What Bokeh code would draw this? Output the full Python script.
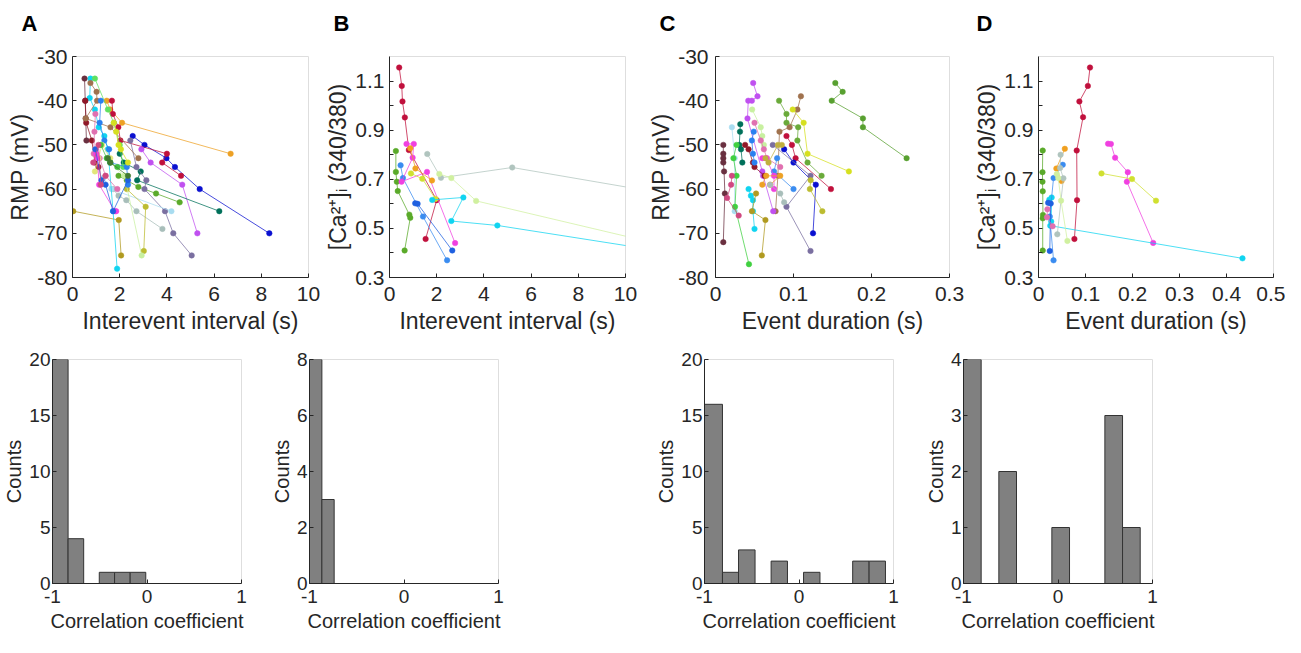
from bokeh.plotting import figure
from bokeh.layouts import row, column
from bokeh.models import FixedTicker, Range1d, Title
from bokeh.embed import file_html
from bokeh.resources import INLINE

# ---------------- data ----------------
# Panel A: RMP (mV) vs interevent interval (s), one list per cell
A_x = [
    [1.45, 1.6, 2.1, 6.7],
    [2.55, 3.05, 3.98, 4.34, 5.39, 8.34],
    [1.67, 1.71, 1.94, 2.03, 4.0, 3.8, 4.6],
    [2.92, 3.31, 4.65, 5.29],
    [2.0, 2.17, 2.89, 2.74, 6.22],
    [1.95, 2.3, 2.79, 3.54, 4.54],
    [2.45, 2.71, 3.13, 3.05, 3.92, 4.27, 5.05],
    [1.72, 1.95, 2.28, 2.71, 3.81],
    [1.3, 1.65, 4.19],
    [0.03, 1.96, 2.06],
    [2.3, 3.1, 3.02],
    [1.6, 2.2, 2.93],
    [0.76, 0.73, 0.95, 1.11, 1.35, 1.5, 1.72, 1.89],
    [0.95, 1.5, 1.75, 2.0, 2.15],
    [0.51, 0.54, 0.56, 0.59],
    [0.54, 0.58, 0.82, 0.95, 1.1],
    [0.76, 1.02, 1.04, 0.56, 1.61, 2.79],
    [0.97, 0.93, 0.9, 1.15, 1.4, 1.9],
    [1.2, 1.15, 1.35, 1.55, 1.6, 2.3, 2.35],
    [1.75, 1.85, 1.95, 2.05, 2.35],
    [0.95, 1.1, 1.25, 1.6],
    [1.0, 1.05, 1.13, 1.8, 1.85],
    [1.2, 1.45, 1.6, 1.9],
    [0.97, 1.23, 1.4, 1.72, 2.35],
    [0.88, 1.1, 1.2, 1.4],
    [1.5, 1.6, 2.35],
]
A_y = [
    [-40, -42, -45, -52],
    [-48, -50, -53, -55, -60, -70],
    [-40, -43, -46, -49, -52, -54, -57],
    [-51, -54, -59, -70],
    [-52, -54, -56, -58, -65],
    [-57, -58, -59.5, -61, -63],
    [-49, -55, -58, -60, -65, -70, -75],
    [-60, -61.5, -62.5, -65, -69],
    [-57.5, -60, -65],
    [-65, -67, -75],
    [-60, -64, -74],
    [-54, -57, -75],
    [-35, -39.4, -42, -46, -48, -51, -65, -78],
    [-35, -42, -45, -50, -55],
    [-35, -40, -44, -49],
    [-40, -45, -49, -54, -55],
    [-36, -38, -40, -44, -46, -53],
    [-43, -47, -52, -53, -57, -60],
    [-40, -45, -49, -51, -54, -55, -59],
    [-45, -47, -50, -51, -54],
    [-56, -53, -50, -53],
    [-52, -53, -59, -65, -65],
    [-50, -53, -54, -55],
    [-51, -58, -59, -65, -58],
    [-54, -50, -59, -57],
    [-53, -54, -57],
]
A_colors = ["#EDA125", "#0A10D0", "#C0103C", "#C050F0", "#00705A", "#5AAA2A",
            "#7A6FA0", "#A8BEBA", "#A8DCF0", "#B09A20", "#BCBC30", "#C8F0A0",
            "#10D4F0", "#60E060", "#6A3040", "#901828", "#A0724E", "#E070B0",
            "#2A80F0", "#D6E020", "#E2E67A", "#F040E0", "#40C040", "#2060E0",
            "#D04880", "#407A30"]

# Panel B: [Ca2+]i vs interevent interval (s)
B_x = [
    [0.41, 0.52, 0.55, 0.65, 0.82, 2.0, 1.53],
    [0.27, 0.27, 0.31, 0.35, 0.84, 0.88, 0.64],
    [0.47, 0.57, 1.42, 2.44],
    [1.09, 1.19, 2.66],
    [0.72, 1.03, 0.98, 0.51, 1.59, 2.78],
    [0.88, 1.1, 1.8],
    [0.91, 1.39, 1.95],
    [1.6, 2.18, 5.2, 12.0],
    [2.11, 2.62, 3.67, 13.0],
    [1.81, 3.13, 2.62, 4.57, 14.0],
]
B_y = [
    [1.155, 1.08, 1.017, 0.952, 0.819, 0.615, 0.457],
    [0.815, 0.73, 0.69, 0.652, 0.556, 0.543, 0.41],
    [0.757, 0.705, 0.548, 0.37],
    [0.602, 0.6, 0.41],
    [0.844, 0.844, 0.788, 0.69, 0.73, 0.44],
    [0.826, 0.744, 0.695],
    [0.724, 0.702, 0.62],
    [0.803, 0.706, 0.748, 0.636],
    [0.722, 0.705, 0.612, 0.40],
    [0.616, 0.626, 0.53, 0.512, 0.37],
]
B_colors = ["#C0103C", "#5AAA2A", "#3A8CF0", "#1F60E0", "#F040E0", "#F0A020",
            "#D0E030", "#B0C4BE", "#D0F0A0", "#10D4F0"]

# Panel C: RMP (mV) vs event duration (s)
C_x = [
    [0.1536, 0.163, 0.149, 0.189, 0.189, 0.245],
    [0.0815, 0.091, 0.091, 0.106, 0.105, 0.118, 0.136],
    [0.1095, 0.105, 0.095, 0.082, 0.08, 0.077],
    [0.099, 0.113, 0.118, 0.171],
    [0.0483, 0.0538, 0.0466, 0.042, 0.041, 0.06, 0.061, 0.074],
    [0.091, 0.098, 0.1027, 0.148],
    [0.088, 0.1, 0.1286, 0.125],
    [0.0734, 0.1218, 0.091, 0.1218],
    [0.122, 0.121, 0.137],
    [0.01, 0.01, 0.01, 0.01, 0.011, 0.012, 0.01],
    [0.0318, 0.0314, 0.0305, 0.0327, 0.0344],
    [0.021, 0.0246, 0.0246],
    [0.027, 0.023, 0.027, 0.025, 0.0429],
    [0.021, 0.02, 0.0148, 0.0297],
    [0.038, 0.0424, 0.048, 0.05, 0.063],
    [0.049, 0.0466, 0.048, 0.05],
    [0.079, 0.075, 0.1],
    [0.0424, 0.0454, 0.048, 0.048, 0.05],
    [0.052, 0.0467, 0.064, 0.0594],
    [0.047, 0.058, 0.06, 0.062],
    [0.05, 0.058, 0.062, 0.066, 0.083],
    [0.06, 0.065, 0.075, 0.075],
    [0.06, 0.065, 0.083, 0.07],
    [0.07, 0.083, 0.088],
    [0.064, 0.068, 0.08, 0.085],
]
C_y = [
    [-36, -38, -40, -44, -46, -53],
    [-40, -43, -45, -46, -49, -54, -57],
    [-39, -42, -46, -47, -57, -65],
    [-42, -45, -52, -56],
    [-36, -39, -40, -40, -44, -56, -57, -65],
    [-48, -50, -53, -60],
    [-51, -54, -59, -70],
    [-50, -57, -64, -74],
    [-58, -60, -65],
    [-50, -52, -53, -54, -56, -61, -72],
    [-45.3, -47, -50, -51, -54],
    [-46, -53, -65],
    [-50, -53, -57, -64, -77],
    [-57, -59, -62, -66],
    [-50, -51, -54, -55, -57],
    [-47, -49, -52, -54],
    [-53, -56, -60],
    [-60, -61.5, -62.5, -65, -69],
    [-61, -65, -67, -75],
    [-42, -46, -48, -50],
    [-45, -49, -51, -53, -55],
    [-53, -53, -57, -60],
    [-59, -57, -57, -59],
    [-59, -61, -63],
    [-53, -54, -50, -50],
]
C_colors = ["#58A030", "#6AAA3A", "#A0724E", "#D6E020", "#C050F0", "#C0103C",
            "#0A10D0", "#7A6FA0", "#BCBC30", "#6A3040", "#00705A", "#A8DCF0",
            "#40D040", "#D04880", "#901828", "#2A80F0", "#3A8CF0", "#10D4F0",
            "#B09A20", "#C8F0A0", "#E070B0", "#F040E0", "#EDA125", "#A8BEBA",
            "#C0B040"]

# Panel D: [Ca2+]i vs event duration (s)
D_x = [
    [0.1096, 0.105, 0.087, 0.0948, 0.0813, 0.082, 0.0764],
    [0.148, 0.154, 0.163, 0.19, 0.188, 0.244],
    [0.134, 0.199, 0.25],
    [0.023, 0.028, 0.027, 0.025, 0.434],
    [0.009, 0.0085, 0.0085, 0.009, 0.0095, 0.009, 0.009],
    [0.0516, 0.032, 0.024, 0.032],
    [0.0205, 0.026, 0.024],
    [0.056, 0.038, 0.049],
    [0.047, 0.046, 0.053, 0.04],
    [0.039, 0.042, 0.048, 0.0615],
    [0.019, 0.018, 0.03],
]
D_y = [
    [1.155, 1.08, 1.017, 0.953, 0.817, 0.615, 0.457],
    [0.845, 0.844, 0.788, 0.729, 0.69, 0.441],
    [0.724, 0.701, 0.613],
    [0.617, 0.626, 0.528, 0.511, 0.378],
    [0.817, 0.729, 0.69, 0.651, 0.555, 0.541, 0.41],
    [0.759, 0.705, 0.548, 0.37],
    [0.604, 0.601, 0.408],
    [0.824, 0.744, 0.693],
    [0.8, 0.746, 0.704, 0.476],
    [0.721, 0.705, 0.613, 0.449],
    [0.578, 0.545, 0.509],
]
D_colors = ["#C0103C", "#F040E0", "#D0E030", "#10D4F0", "#5AAA2A", "#3A8CF0",
            "#1F60E0", "#F0A020", "#B0C4BE", "#D0F0A0", "#E070B0"]

# Histograms of correlation coefficients: bin edges and counts
HA_edges = [-1.0, -0.835, -0.67, -0.505, -0.343, -0.178, -0.013]
HA_counts = [20, 4, 0, 1, 1, 1]
HB_edges = [-1.0, -0.869, -0.739]
HB_counts = [8, 3]
HC_edges = [-1.0, -0.81, -0.64, -0.465, -0.295, -0.122, 0.048, 0.222, 0.395, 0.568, 0.742, 0.915]
HC_counts = [16, 1, 3, 0, 2, 0, 1, 0, 0, 2, 2]
HD_edges = [-1.0, -0.813, -0.626, -0.439, -0.252, -0.065, 0.122, 0.309, 0.496, 0.683, 0.87]
HD_counts = [4, 0, 2, 0, 0, 1, 0, 0, 3, 1]

X_IEI_TICKS = [0, 2, 4, 6, 8, 10]
RMP_TICKS = [-80, -70, -60, -50, -40, -30]
CA_TICKS = [0.3, 0.5, 0.7, 0.9, 1.1]
CA_MINOR = [0.4, 0.6, 0.8, 1.0]
DUR_C_TICKS = [0, 0.1, 0.2, 0.3]
DUR_D_TICKS = [0, 0.1, 0.2, 0.3, 0.4, 0.5]
R_TICKS = [-1, 0, 1]

CA_LABEL = "[Ca\u00b2\u207a]\u1d62 (340/380)"

# ---------------- styling helpers ----------------
TXT = "#262626"
FONT = "Liberation Sans"


def make_fig(w, h, left, right, top, bottom, xr, yr):
    p = figure(width=w, height=h, x_range=Range1d(*xr), y_range=Range1d(*yr),
               output_backend="svg", toolbar_location=None,
               min_border_left=left, min_border_right=right,
               min_border_top=top, min_border_bottom=bottom)
    p.xgrid.visible = False
    p.ygrid.visible = False
    p.outline_line_color = "#dedede"
    p.outline_line_width = 1
    p.background_fill_color = "white"
    p.border_fill_color = "white"
    return p


def style_axis(ax, ticks, label, tick_size, label_size, tick_standoff,
               label_standoff, minor=None):
    ax.ticker = FixedTicker(ticks=ticks, minor_ticks=minor or [])
    ax.major_label_overrides = {t: "-" + str(abs(t)) for t in ticks if t < 0}
    ax.axis_label = label
    ax.axis_line_color = TXT
    ax.axis_line_width = 1
    ax.major_tick_line_color = TXT
    ax.major_tick_in = 4
    ax.major_tick_out = 0
    if minor:
        ax.minor_tick_line_color = TXT
        ax.minor_tick_in = 4
        ax.minor_tick_out = 0
    else:
        ax.minor_tick_line_color = None
    ax.major_label_text_font = FONT
    ax.major_label_text_font_size = f"{tick_size}px"
    ax.major_label_text_color = TXT
    ax.major_label_standoff = tick_standoff
    ax.axis_label_text_font = FONT
    ax.axis_label_text_font_size = f"{label_size}px"
    ax.axis_label_text_font_style = "normal"
    ax.axis_label_text_color = TXT
    ax.axis_label_standoff = label_standoff


def scatter_panel(p, xs, ys, colors):
    for x, y, c in zip(xs, ys, colors):
        p.line(x, y, line_color=c, line_width=1, line_alpha=0.75)
        p.scatter(x, y, size=5.5, fill_color=c, line_color=c, line_width=0.5)


def letter(p, text, offset):
    # a thin spacer title next to the frame, then the panel letter above it
    p.add_layout(Title(text=" ", text_font_size="1px", standoff=18), "above")
    p.add_layout(Title(text=text, align="left", offset=offset, standoff=0,
                       text_font=FONT, text_font_size="22px",
                       text_font_style="bold", text_color="black"), "above")


def hist_panel(p, edges, counts):
    lefts = [edges[i] for i in range(len(counts)) if counts[i] > 0]
    rights = [edges[i + 1] for i in range(len(counts)) if counts[i] > 0]
    tops = [c for c in counts if c > 0]
    p.quad(left=lefts, right=rights, bottom=0, top=tops,
           fill_color="#808080", line_color="#333333", line_width=1)


# ---------------- top row ----------------
TS, LS = 21, 23
XS1, XS2 = 9, 4
H1 = 342
pA = make_fig(322, H1, 72, 14, 53, H1 - 280, (0, 10), (-80, -30))
scatter_panel(pA, A_x, A_y, A_colors)
style_axis(pA.xaxis[0], X_IEI_TICKS, "Interevent interval (s)", TS, LS, XS1, XS2)
style_axis(pA.yaxis[0], RMP_TICKS, "RMP (mV)", TS, LS, 5, 1)
letter(pA, "A", -51)

pB = make_fig(323, H1, 67, 20, 50, H1 - 277, (0, 10), (0.3, 1.2))
scatter_panel(pB, B_x, B_y, B_colors)
style_axis(pB.xaxis[0], X_IEI_TICKS, "Interevent interval (s)", TS, LS, XS1, XS2)
style_axis(pB.yaxis[0], CA_TICKS, CA_LABEL, TS, LS, 5, 1, minor=CA_MINOR)
letter(pB, "B", -56)

pC = make_fig(325, H1, 68, 21, 56, H1 - 280, (0, 0.3), (-80, -30))
scatter_panel(pC, C_x, C_y, C_colors)
style_axis(pC.xaxis[0], DUR_C_TICKS, "Event duration (s)", TS, LS, XS1, XS2)
style_axis(pC.yaxis[0], RMP_TICKS, "RMP (mV)", TS, LS, 7, 1)
letter(pC, "C", -56)

pD = make_fig(315, H1, 68, 12, 52, H1 - 279, (0, 0.5), (0.3, 1.2))
scatter_panel(pD, D_x, D_y, D_colors)
style_axis(pD.xaxis[0], DUR_D_TICKS, "Event duration (s)", TS, LS, XS1, XS2)
style_axis(pD.yaxis[0], CA_TICKS, CA_LABEL, TS, LS, 5, 1, minor=CA_MINOR)
letter(pD, "D", -62)

# ---------------- bottom row ----------------
HT, HL = 19, 20
H2 = 637 - H1
HB = 54
hA = make_fig(265, H2, 52, 24, 15, HB, (-1, 1), (0, 20))
hist_panel(hA, HA_edges, HA_counts)
style_axis(hA.xaxis[0], R_TICKS, "Correlation coefficient", HT, HL, 6, 4)
style_axis(hA.yaxis[0], [0, 5, 10, 15, 20], "Counts", HT, HL, 2, 1)

hB = make_fig(387, H2, 44, 154, 16, HB, (-1, 1), (0, 8))
hist_panel(hB, HB_edges, HB_counts)
style_axis(hB.xaxis[0], R_TICKS, "Correlation coefficient", HT, HL, 6, 4)
style_axis(hB.yaxis[0], [0, 2, 4, 6, 8], "Counts", HT, HL, 2, 1)

hC = make_fig(263, H2, 52, 22, 16, HB, (-1, 1), (0, 20))
hist_panel(hC, HC_edges, HC_counts)
style_axis(hC.xaxis[0], R_TICKS, "Correlation coefficient", HT, HL, 6, 4)
style_axis(hC.yaxis[0], [0, 5, 10, 15, 20], "Counts", HT, HL, 2, 1)

hD = make_fig(370, H2, 48, 133, 17, HB, (-1, 1), (0, 4))
hist_panel(hD, HD_edges, HD_counts)
style_axis(hD.xaxis[0], R_TICKS, "Correlation coefficient", HT, HL, 6, 4)
style_axis(hD.yaxis[0], [0, 1, 2, 3, 4], "Counts", HT, HL, 2, 1)

layout = column(row(pA, pB, pC, pD), row(hA, hB, hC, hD))
open("out.html", "w").write(file_html(layout, INLINE))
